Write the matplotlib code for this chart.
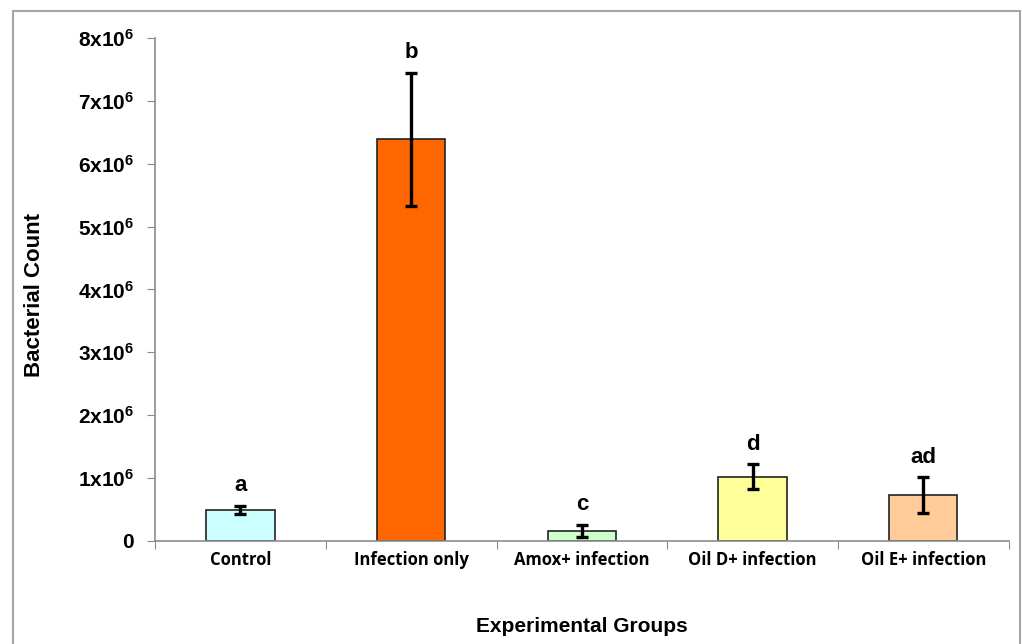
import numpy as np
import matplotlib
matplotlib.use("Agg")
import matplotlib.pyplot as plt
from matplotlib.patches import Rectangle

plt.rcParams["mathtext.fontset"] = "custom"
plt.rcParams["mathtext.rm"] = "Liberation Sans:bold"
plt.rcParams["mathtext.it"] = "Liberation Sans:bold"
plt.rcParams["mathtext.bf"] = "Liberation Sans:bold"

# dados: contagem bacteriana por grupo
grupos = ["Control", "Infection only", "Amox+ infection",
          "Oil D+ infection", "Oil E+ infection"]
medias = [0.49e6, 6.39e6, 0.16e6, 1.02e6, 0.73e6]
erros = [0.065e6, 1.06e6, 0.10e6, 0.20e6, 0.28e6]
letras = ["a", "b", "c", "d", "ad"]
cores = ["#CCFFFF", "#FF6600", "#CCFFCC", "#FFFF99", "#FFCC99"]
yticks = [0, 1e6, 2e6, 3e6, 4e6, 5e6, 6e6, 7e6, 8e6]
ytick_labels = ["0"] + [r"$%d\mathrm{x}10^{6}$" % i for i in range(1, 9)]

CINZA = "#8C8C8C"

fig = plt.figure(figsize=(10.22, 6.44), dpi=100)
ax = fig.add_axes([0.1517, 0.16, 0.987 - 0.1517, 0.941 - 0.16])

x = np.arange(len(grupos))
ax.bar(x, medias, width=0.4, color=cores, edgecolor="#222222", linewidth=1.2,
       yerr=erros, error_kw=dict(ecolor="black", elinewidth=2.4,
                                 capsize=4, capthick=2.4))

# letras de significancia acima das barras de erro
for xi, m, e, l in zip(x, medias, erros, letras):
    ax.annotate(l, (xi, m + e), xytext=(0, 7), textcoords="offset points",
                ha="center", va="bottom", fontsize=16, fontweight="bold",
                family="Liberation Sans")

ax.set_xlim(-0.5, len(grupos) - 0.5)
ax.set_ylim(0, 8e6)
ax.set_yticks(yticks)
ax.set_yticklabels(ytick_labels, fontsize=15, fontweight="bold",
                   family="Liberation Sans")

# ticks do eixo x nos limites entre categorias, rotulos centralizados
ax.set_xticks(np.arange(len(grupos) + 1) - 0.5)
ax.set_xticklabels([])
ax.set_xticks(x, minor=True)
ax.set_xticklabels(grupos, minor=True, fontsize=12, fontweight="bold",
                   family="Open Sans")
ax.tick_params(axis="x", which="minor", length=0, pad=7)
ax.tick_params(axis="x", which="major", length=6, color=CINZA)
ax.tick_params(axis="y", length=6, color=CINZA, pad=9)

for lado in ["top", "right"]:
    ax.spines[lado].set_visible(False)
for lado in ["left", "bottom"]:
    ax.spines[lado].set_color(CINZA)
    ax.spines[lado].set_linewidth(1.2)

fig.text(0.5695, 1 - 627 / 644, "Experimental Groups", ha="center", va="center",
         fontsize=15, fontweight="bold", family="Liberation Sans")
fig.text(35 / 1022, 1 - 295 / 644, "Bacterial Count", ha="center", va="center",
         rotation=90, fontsize=16, fontweight="bold", family="Liberation Sans")

# moldura em volta da figura
fig.patches.append(Rectangle((13 / 1022, -0.05), 1007 / 1022, 0.05 + 633 / 644,
                             transform=fig.transFigure, fill=False,
                             edgecolor="#A6A6A6", linewidth=1.5))

fig.savefig("out.png", dpi=100)
